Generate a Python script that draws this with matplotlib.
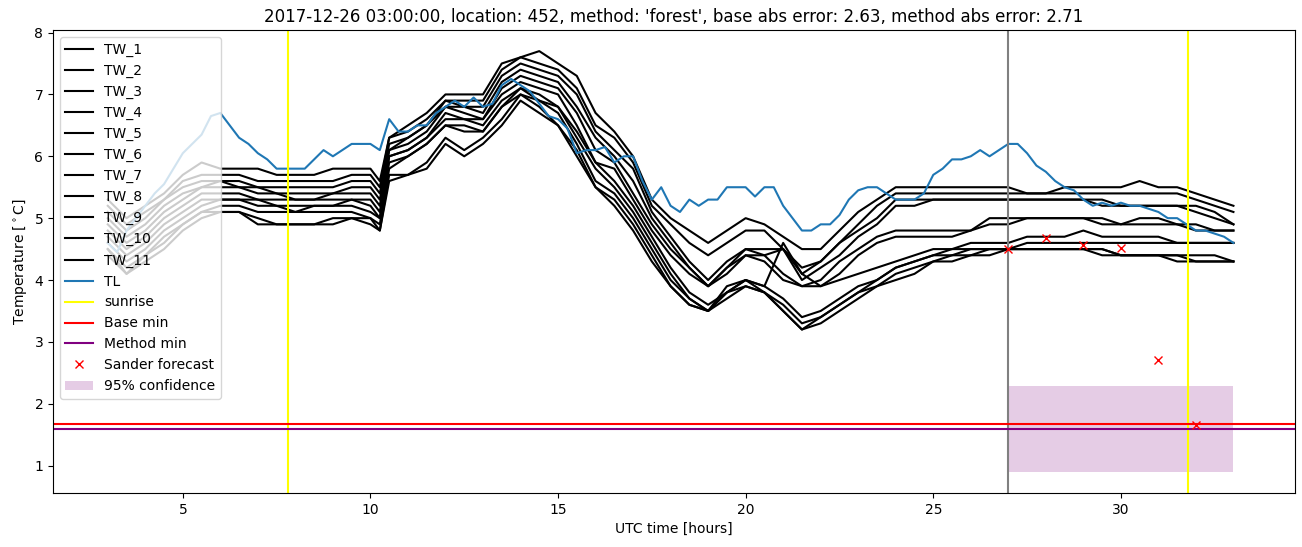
import numpy as np
import matplotlib
matplotlib.use('Agg')
import matplotlib.pyplot as plt

# time axis for the water temperature sensors (hours, UTC)
tw_hours = list(np.arange(3.0, 10.01, 0.5)) + [10.25] + list(np.arange(10.5, 33.01, 0.5))

TW_1 = [5.3, 5.0, 5.2, 5.4, 5.7, 5.9, 5.8, 5.8, 5.8, 5.7, 5.7, 5.7, 5.8, 5.8, 5.8, 5.6,
        6.3, 6.5, 6.7, 7.0, 7.0, 7.0, 7.5, 7.6, 7.7, 7.5, 7.3, 6.7, 6.4, 6.0,
        5.3, 5.0, 4.8, 4.6, 4.8, 5.0, 4.9, 4.7, 4.5, 4.5, 4.8, 5.1, 5.3, 5.5,
        5.5, 5.5, 5.5, 5.5, 5.5,
        5.5, 5.4, 5.4, 5.5, 5.5, 5.5, 5.5, 5.6, 5.5, 5.5, 5.4, 5.3, 5.2]
TW_2 = [5.2, 4.9, 5.1, 5.3, 5.6, 5.7, 5.7, 5.7, 5.6, 5.6, 5.6, 5.6, 5.6, 5.7, 5.7, 5.5,
        6.3, 6.4, 6.6, 6.9, 6.9, 6.9, 7.4, 7.6, 7.5, 7.4, 7.1, 6.5, 6.3, 5.9,
        5.2, 4.9, 4.6, 4.4, 4.6, 4.8, 4.8, 4.5, 4.2, 4.3, 4.6, 4.9, 5.2, 5.4,
        5.4, 5.4, 5.4, 5.4, 5.4,
        5.4, 5.4, 5.4, 5.4, 5.4, 5.4, 5.4, 5.4, 5.4, 5.4, 5.3, 5.2, 5.1]
TW_3 = [5.1, 4.8, 5.0, 5.3, 5.5, 5.6, 5.6, 5.6, 5.5, 5.5, 5.5, 5.5, 5.5, 5.6, 5.6, 5.4,
        6.2, 6.3, 6.5, 6.9, 6.8, 6.8, 7.3, 7.5, 7.4, 7.3, 7.0, 6.4, 6.1, 5.8,
        5.1, 4.7, 4.3, 4.0, 4.3, 4.5, 4.4, 4.5, 4.1, 4.3, 4.6, 4.8, 5.0, 5.3,
        5.3, 5.3, 5.3, 5.3, 5.3,
        5.3, 5.3, 5.3, 5.3, 5.3, 5.3, 5.2, 5.2, 5.2, 5.2, 5.2, 5.1, 4.9]
TW_4 = [5.0, 4.7, 4.9, 5.2, 5.4, 5.5, 5.6, 5.5, 5.5, 5.4, 5.4, 5.4, 5.4, 5.5, 5.5, 5.3,
        6.1, 6.3, 6.5, 6.8, 6.8, 6.7, 7.2, 7.4, 7.3, 7.2, 6.8, 6.3, 6.0, 5.6,
        5.0, 4.6, 4.2, 3.9, 4.2, 4.5, 4.5, 4.5, 4.0, 4.2, 4.4, 4.7, 4.9, 5.2,
        5.2, 5.3, 5.3, 5.3, 5.3,
        5.3, 5.3, 5.3, 5.3, 5.3, 5.2, 5.2, 5.2, 5.2, 5.2, 5.1, 5.0, 4.9]
TW_5 = [4.9, 4.6, 4.8, 5.1, 5.3, 5.5, 5.5, 5.5, 5.4, 5.4, 5.3, 5.3, 5.4, 5.4, 5.4, 5.2,
        6.1, 6.2, 6.4, 6.8, 6.7, 6.6, 7.1, 7.3, 7.2, 7.1, 6.7, 6.1, 5.9, 5.4,
        4.9, 4.5, 4.2, 3.9, 4.2, 4.4, 4.4, 4.1, 3.9, 4.0, 4.3, 4.5, 4.7, 4.8,
        4.8, 4.8, 4.8, 4.8, 5.0,
        5.0, 5.0, 5.0, 5.0, 5.0, 5.0, 4.9, 5.0, 5.0, 4.9, 4.9, 4.8, 4.8]
TW_6 = [4.8, 4.5, 4.7, 5.0, 5.2, 5.4, 5.4, 5.4, 5.3, 5.3, 5.3, 5.3, 5.3, 5.3, 5.3, 5.1,
        6.0, 6.1, 6.3, 6.7, 6.6, 6.6, 7.0, 7.2, 7.1, 7.0, 6.5, 5.9, 5.8, 5.3,
        4.8, 4.4, 4.1, 3.9, 4.1, 4.4, 4.3, 4.0, 3.9, 3.9, 4.1, 4.4, 4.6, 4.7,
        4.7, 4.7, 4.7, 4.8, 4.9,
        4.9, 5.0, 5.0, 5.0, 5.0, 4.9, 4.9, 4.9, 4.9, 4.9, 4.8, 4.8, 4.8]
TW_7 = [4.7, 4.4, 4.6, 4.9, 5.1, 5.3, 5.3, 5.3, 5.3, 5.2, 5.2, 5.2, 5.2, 5.3, 5.2, 5.0,
        6.0, 6.1, 6.3, 6.6, 6.6, 6.5, 6.9, 7.1, 7.0, 6.8, 6.4, 5.9, 5.6, 5.2,
        4.7, 4.2, 3.8, 3.6, 3.8, 4.0, 3.9, 4.6, 4.1, 3.9, 4.0, 4.1, 4.2, 4.3,
        4.4, 4.5, 4.5, 4.6, 4.6,
        4.6, 4.7, 4.7, 4.7, 4.8, 4.7, 4.7, 4.7, 4.7, 4.6, 4.6, 4.6, 4.6]
TW_8 = [4.6, 4.3, 4.5, 4.8, 5.0, 5.2, 5.3, 5.3, 5.2, 5.2, 5.1, 5.2, 5.2, 5.2, 5.1, 5.0,
        5.9, 6.0, 6.2, 6.5, 6.5, 6.4, 6.8, 7.1, 6.9, 6.8, 6.3, 5.8, 5.5, 5.1,
        4.6, 4.1, 3.7, 3.5, 3.8, 4.0, 3.9, 3.7, 3.4, 3.5, 3.7, 3.9, 4.0, 4.2,
        4.3, 4.4, 4.5, 4.5, 4.5,
        4.5, 4.6, 4.6, 4.6, 4.6, 4.6, 4.6, 4.6, 4.6, 4.6, 4.6, 4.6, 4.6]
TW_9 = [4.5, 4.2, 4.4, 4.7, 4.9, 5.1, 5.2, 5.2, 5.1, 5.1, 5.1, 5.1, 5.1, 5.1, 5.0, 4.9,
        5.8, 6.0, 6.2, 6.5, 6.4, 6.4, 6.8, 7.0, 6.9, 6.7, 6.2, 5.6, 5.4, 5.0,
        4.5, 4.0, 3.7, 3.5, 3.9, 4.0, 3.8, 3.6, 3.3, 3.4, 3.6, 3.8, 4.0, 4.2,
        4.3, 4.4, 4.4, 4.5, 4.5,
        4.5, 4.5, 4.5, 4.5, 4.5, 4.5, 4.4, 4.4, 4.4, 4.4, 4.4, 4.4, 4.3]
TW_10 = [4.5, 4.1, 4.4, 4.6, 4.9, 5.1, 5.1, 5.1, 5.0, 4.9, 4.9, 4.9, 5.0, 5.0, 5.0, 4.8,
         5.7, 5.7, 5.9, 6.3, 6.1, 6.3, 6.6, 7.0, 6.8, 6.5, 6.1, 5.5, 5.3, 4.9,
         4.4, 3.9, 3.6, 3.5, 3.8, 3.9, 3.8, 3.5, 3.2, 3.4, 3.6, 3.8, 3.9, 4.1,
         4.2, 4.3, 4.4, 4.4, 4.5,
         4.5, 4.5, 4.5, 4.5, 4.5, 4.4, 4.4, 4.4, 4.4, 4.4, 4.3, 4.3, 4.3]
TW_11 = [4.4, 4.1, 4.3, 4.5, 4.8, 5.0, 5.1, 5.1, 4.9, 4.9, 4.9, 4.9, 4.9, 5.0, 4.9, 4.8,
         5.6, 5.7, 5.8, 6.2, 6.0, 6.2, 6.5, 6.9, 6.7, 6.5, 6.0, 5.5, 5.2, 4.8,
         4.3, 3.9, 3.6, 3.5, 3.7, 3.9, 3.8, 3.5, 3.2, 3.3, 3.5, 3.7, 3.9, 4.0,
         4.1, 4.3, 4.3, 4.4, 4.4,
         4.5, 4.5, 4.5, 4.5, 4.5, 4.5, 4.4, 4.4, 4.4, 4.3, 4.3, 4.3, 4.3]
tw_series = [TW_1, TW_2, TW_3, TW_4, TW_5, TW_6, TW_7, TW_8, TW_9, TW_10, TW_11]

# air temperature, quarter-hour steps
tl_hours = np.arange(3.0, 33.01, 0.25)
TL = [4.6, 4.45, 4.8, 5.0, 5.2, 5.4, 5.55, 5.8, 6.05, 6.2, 6.35, 6.65, 6.7, 6.5, 6.3, 6.2,
      6.05, 5.95, 5.8, 5.8, 5.8, 5.8, 5.95, 6.1, 6.0, 6.1, 6.2, 6.2, 6.2, 6.1, 6.6, 6.4,
      6.4, 6.5, 6.5, 6.7, 6.8, 6.9, 6.8, 6.95, 6.8, 6.85, 7.15, 7.25, 7.15, 7.05, 6.85, 6.65,
      6.6, 6.45, 6.05, 6.1, 6.1, 6.15, 5.9, 6.0, 6.0, 5.6, 5.3,
      5.5, 5.2, 5.1, 5.3, 5.2, 5.3, 5.3, 5.5, 5.5, 5.5, 5.35, 5.5, 5.5, 5.2, 5.0, 4.8,
      4.8, 4.9, 4.9, 5.05, 5.3, 5.45, 5.5, 5.5, 5.4, 5.3, 5.3, 5.3, 5.4, 5.7, 5.8, 5.95,
      5.95, 6.0, 6.1, 6.0, 6.1, 6.2, 6.2, 6.05, 5.85, 5.75, 5.6, 5.5, 5.45, 5.3, 5.2, 5.25,
      5.2, 5.25, 5.2, 5.2, 5.15, 5.1, 5.0, 5.0, 4.9, 4.8, 4.8, 4.75, 4.7, 4.6]

sunrise = [7.8, 31.8]
forecast_time = 27
base_min = 1.67
method_min = 1.59
sander_hours = [27, 28, 29, 30, 31, 32]
sander_values = [4.5, 4.68, 4.56, 4.52, 2.71, 1.66]
conf_hours = [27, 33]
conf_low = 0.9
conf_high = 2.29

fig, ax = plt.subplots(figsize=(13.02, 5.47), dpi=100)
fig.subplots_adjust(left=0.0407, right=0.9946, top=0.945, bottom=0.099)

for i, tw in enumerate(tw_series):
    ax.plot(tw_hours, tw, color='black', label='TW_' + str(i + 1))
ax.plot(tl_hours, TL, color='C0', label='TL')

ax.axvline(sunrise[0], color='yellow', label='sunrise')
ax.axvline(sunrise[1], color='yellow')
ax.axvline(forecast_time, color='gray')
ax.axhline(base_min, color='red', label='Base min')
ax.axhline(method_min, color='purple', label='Method min')
ax.plot(sander_hours, sander_values, 'rx', label='Sander forecast')
ax.fill_between(conf_hours, conf_low, conf_high, color='purple', alpha=0.2,
                linewidth=0, label='95% confidence')

ax.set_xlim(1.54, 34.64)
ax.set_xlabel('UTC time [hours]')
ax.set_ylabel('Temperature [$^\\circ$C]')
ax.set_title("2017-12-26 03:00:00, location: 452, method: 'forest', "
             "base abs error: 2.63, method abs error: 2.71")
ax.legend(loc='upper left')

fig.savefig('out.png', dpi=100)
